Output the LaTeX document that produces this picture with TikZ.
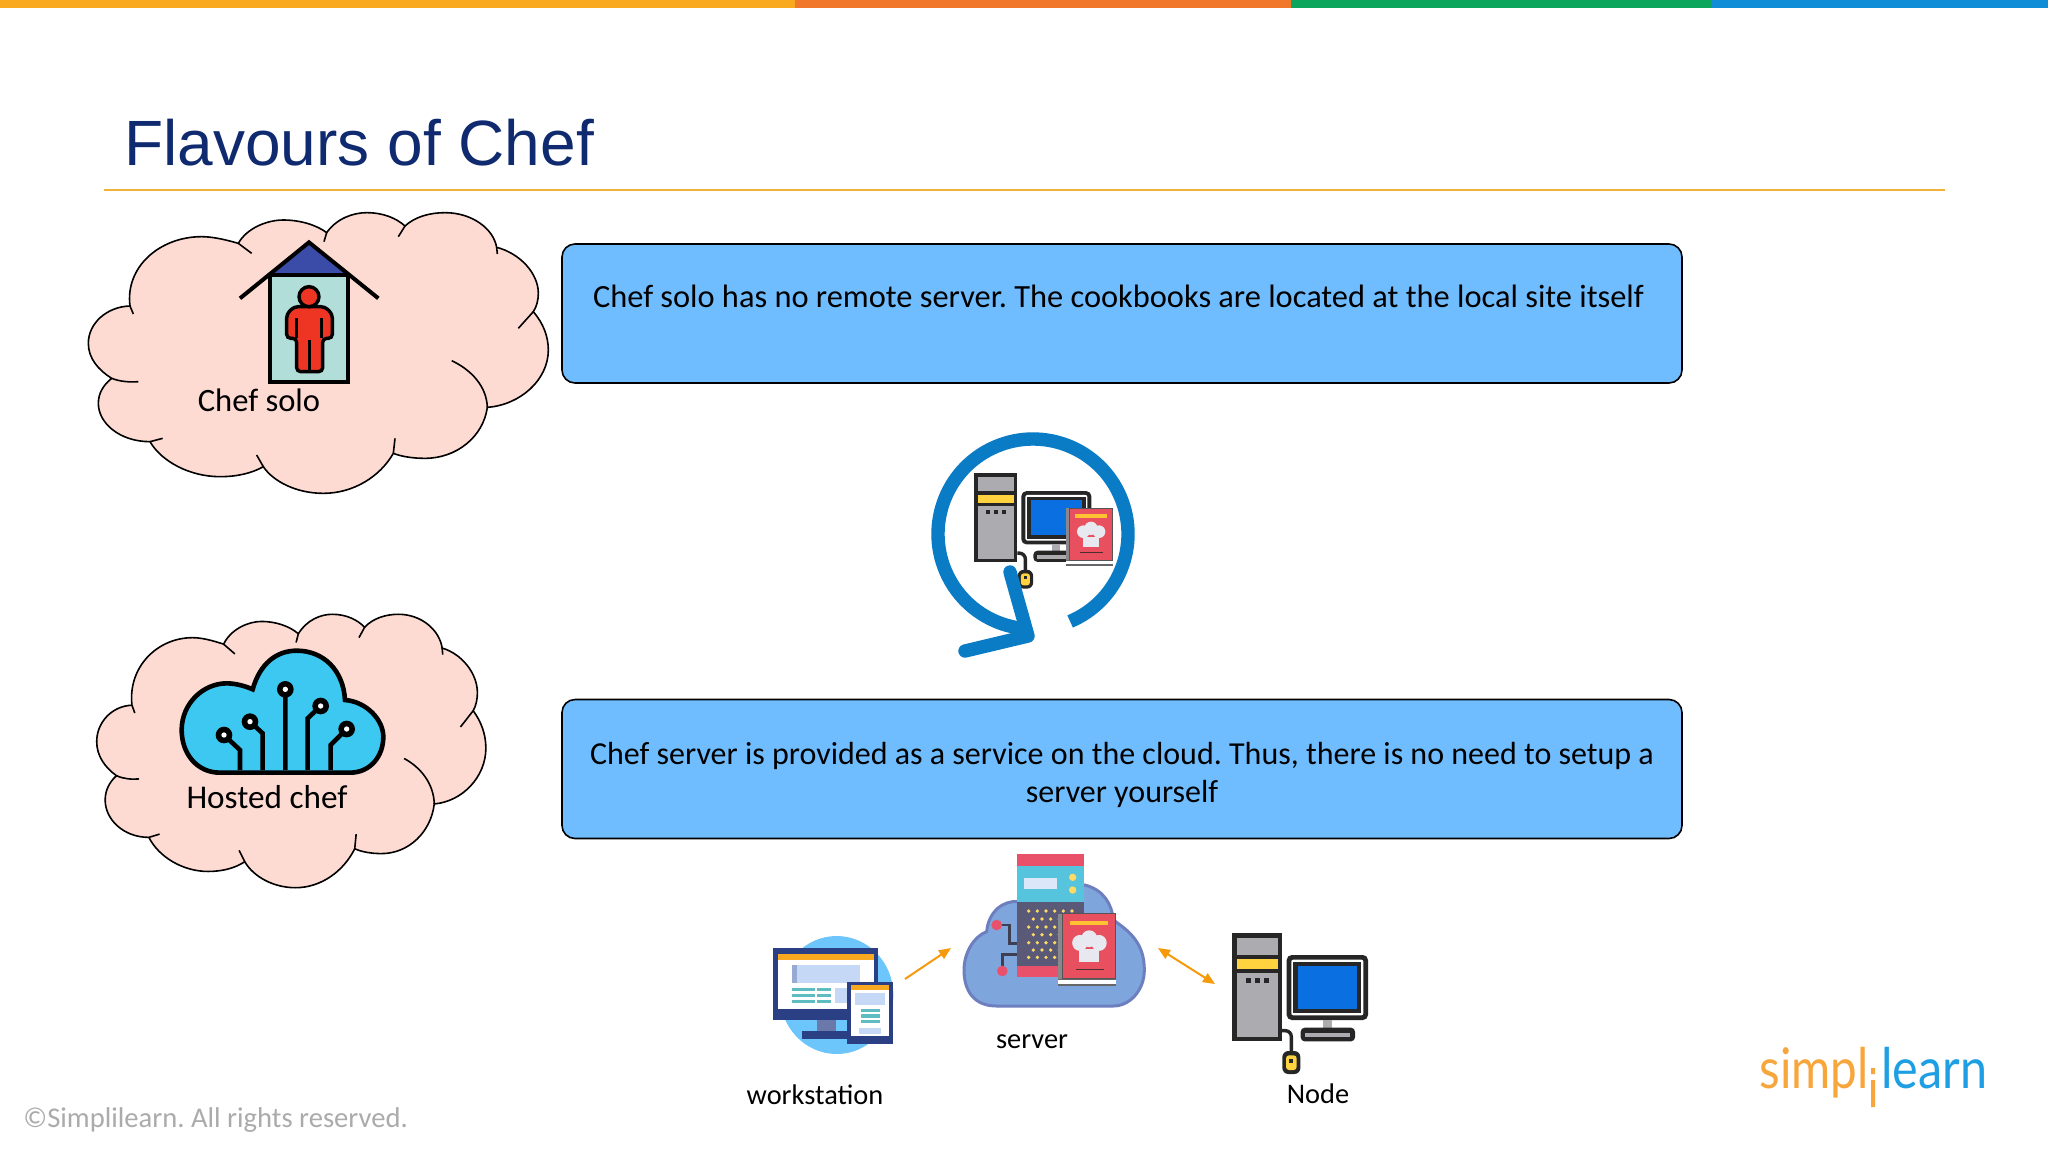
\documentclass[tikz,border=0pt]{standalone}
\usepackage{fontspec}
\setmainfont{Carlito}
\newfontfamily\titlefont{Liberation Sans}
\newfontfamily\logofont{Lato}
\usetikzlibrary{arrows.meta}
\definecolor{barone}{HTML}{F9A91F}
\definecolor{bartwo}{HTML}{F1782B}
\definecolor{barthree}{HTML}{0BA65C}
\definecolor{barfour}{HTML}{0F8DD6}
\definecolor{titlenavy}{HTML}{0F2A6E}
\definecolor{rulegold}{HTML}{F4B13A}
\definecolor{boxblue}{HTML}{6FBDFF}
\definecolor{cloudpink}{HTML}{FDDBD2}
\definecolor{loopblue}{HTML}{0A7CC6}
\definecolor{arroworange}{HTML}{F59B0B}
\definecolor{roofblue}{HTML}{3B4BA8}
\definecolor{housegreen}{HTML}{B2DEDA}
\definecolor{manred}{HTML}{EE3524}
\definecolor{hostedblue}{HTML}{3CC8F0}
\definecolor{pcdark}{HTML}{262626}
\definecolor{pcgrey}{HTML}{ABABB0}
\definecolor{pcyellow}{HTML}{FFD23F}
\definecolor{pcblue}{HTML}{0A6FE0}
\definecolor{bookred}{HTML}{E9505F}
\definecolor{hatwhite}{HTML}{E8E8F0}
\definecolor{navyws}{HTML}{2B3F85}
\definecolor{lightws}{HTML}{C5D8F5}
\definecolor{tealws}{HTML}{5FBCC0}
\definecolor{skyws}{HTML}{6CC5FB}
\definecolor{serverfill}{HTML}{7FA6DC}
\definecolor{serveredge}{HTML}{6E7FC0}
\definecolor{towerred}{HTML}{E9506A}
\definecolor{towercyan}{HTML}{55C4DC}
\definecolor{towerdark}{HTML}{5A5A78}
\definecolor{logoorange}{HTML}{F7A63C}
\definecolor{logoblue}{HTML}{1E9FE3}
\tikzset{
  x=0.5pt,y=-0.5pt,
  infobox/.style={draw=black,line width=0.8pt,fill=boxblue,rounded corners=6.5pt,minimum width=560pt,minimum height=69.5pt,inner sep=0pt},
  infotext/.style={align=center,font=\frenchspacing\fontsize{16.2}{19}\selectfont,inner sep=0pt},
  cloudtext/.style={font=\fontsize{16.3}{19}\selectfont,inner sep=0pt},
  smalltext/.style={font=\fontsize{14.2}{16}\selectfont,inner sep=0pt},
  linkarrow/.style={draw=arroworange,line width=1pt},
}
% cloud outline, tails drawn after the fill
\newcommand{\cloudblob}{
  \draw[fill=cloudpink,line width=0.8pt] (180,348) .. controls (165,230) and (270,140) .. (395,140)
    .. controls (430,140) and (470,150) .. (505,160)
    .. controls (530,115) and (590,90) .. (640,90) .. controls (690,90) and (740,105) .. (770,128)
    .. controls (800,85) and (850,68) .. (890,68) .. controls (940,68) and (980,85) .. (1005,108)
    .. controls (1035,80) and (1080,68) .. (1125,68) .. controls (1205,68) and (1270,115) .. (1280,172)
    .. controls (1350,190) and (1405,250) .. (1405,310) .. controls (1405,330) and (1400,350) .. (1390,365)
    .. controls (1420,400) and (1435,440) .. (1435,480) .. controls (1435,570) and (1350,645) .. (1252,652)
    .. controls (1240,740) and (1160,805) .. (1065,805) .. controls (1030,805) and (995,800) .. (970,790)
    .. controls (930,860) and (850,910) .. (760,910) .. controls (680,910) and (610,875) .. (580,830)
    .. controls (545,850) and (500,860) .. (450,860) .. controls (360,860) and (275,815) .. (240,755)
    .. controls (150,755) and (85,700) .. (85,640) .. controls (85,610) and (100,585) .. (125,565)
    .. controls (85,540) and (55,505) .. (55,460) .. controls (55,400) and (110,350) .. (180,348) -- cycle;
  \draw[line width=0.8pt] (180,348) -- (190,372) (505,160) -- (545,190) (770,128) -- (762,155)
    (1005,108) -- (985,140) (1280,172) -- (1282,192) (1390,365) -- (1345,415)
    (1252,652) .. controls (1250,590) and (1205,540) .. (1145,512)
    (970,790) -- (975,745) (580,830) -- (560,795) (240,755) -- (278,745) (125,565) .. controls (150,575) and (180,577) .. (205,575);
}
% computer with tower, monitor and mouse
\newcommand{\pcicon}{
  \fill[pcdark] (306,100) rectangle (456,424);
  \fill[pcgrey] (320,114) rectangle (444,166);
  \fill[pcyellow] (320,178) rectangle (444,208);
  \fill[pcgrey] (320,220) rectangle (444,412);
  \foreach \dotx in {355,382,409}
    \fill[pcdark] (\dotx-7,235) rectangle (\dotx+7,249);
  \fill[pcdark,rounded corners=2.5pt] (470,165) rectangle (714,360);
  \fill[white,rounded corners=1pt] (484,179) rectangle (700,346);
  \fill[pcdark] (490,185) rectangle (694,340);
  \fill[pcblue] (503,198) rectangle (682,326);
  \fill[pcgrey] (578,360) rectangle (606,385);
  \fill[pcdark,rounded corners=2pt] (512,424) -- (512,383) -- (675,383) -- (675,424) -- cycle;
  \fill[pcgrey] (526,398) rectangle (661,412);
  \draw[pcdark,line width=1.7pt,rounded corners=3pt] (456,392) -- (484,392) -- (484,456);
  \fill[pcdark,rounded corners=3pt] (457,453) rectangle (511,522);
  \fill[pcyellow,rounded corners=1.5pt] (468,466) rectangle (500,510);
  \fill[pcdark] (478,476) rectangle (490,488);
}
% cook book with chef hat
\newcommand{\bookicon}{
  \fill[pcgrey!80!black] (497,295) rectangle (510,467);
  \fill[white] (497,450) rectangle (638,465);
  \draw[pcgrey!60!black,line width=0.6pt] (497,452) -- (638,452) (497,465) -- (638,465);
  \fill[bookred] (508,295) rectangle (638,450);
  \draw[pcgrey!50!black,line width=0.4pt] (508,295) rectangle (638,450);
  \fill[pcyellow!80!orange] (525,312) rectangle (620,323);
  \fill[hatwhite] (548,380) rectangle (597,410);
  \fill[hatwhite] (550,365) circle[radius=19] (573,355) circle[radius=20] (597,365) circle[radius=19];
  \draw[pcdark!80!bookred,line width=0.5pt] (540,428) -- (610,428);
}
\begin{document}
\begin{tikzpicture}
  \useasboundingbox (0,0) rectangle (2048,1152);
  \fill[white] (0,0) rectangle (2048,1152);
  % top colour bar
  \fill[barone] (0,0) rectangle (795,8);
  \fill[bartwo] (795,0) rectangle (1291,8);
  \fill[barthree] (1291,0) rectangle (1712,8);
  \fill[barfour] (1712,0) rectangle (2048,8);
  % title
  \node[anchor=base west,inner sep=0pt,text=titlenavy,font=\titlefont\fontsize{32}{40}\selectfont] (title) at (124,165) {Flavours of Chef};
  \draw[rulegold,line width=0.8pt] (104,190) -- (1945,190);
  % clouds
  \begin{scope}[shift={(70,190)},scale=1/3]
    \cloudblob
    % house
    \fill[roofblue] (610,250) -- (717,160) -- (825,250) -- cycle;
    \draw[line width=2pt,fill=housegreen] (600,255) rectangle (835,575);
    \draw[line width=2pt] (510,325) -- (717,157) -- (925,325);
    \draw[line width=1.7pt,fill=manred,rounded corners=2pt] (672,350) -- (765,350) -- (787,372) -- (787,445) -- (758,445) -- (758,545) -- (680,545) -- (680,445) -- (650,445) -- (650,372) -- cycle;
    \draw[line width=1.7pt,fill=manred] (717,320) circle[radius=30];
    \draw[line width=1.5pt] (680,385) -- (680,445) (755,385) -- (755,445) (717,450) -- (717,545);
  \end{scope}
  \node[cloudtext] (solo) at (259,400.5) {Chef solo};
  \begin{scope}[shift={(81.2,592.2)},xscale=0.282,yscale=0.3247]
    \cloudblob
  \end{scope}
  \begin{scope}[shift={(70,590)},scale=1/3]
    \draw[line width=2.3pt,fill=hostedblue] (450,548) .. controls (380,548) and (335,490) .. (335,420)
      .. controls (335,340) and (400,280) .. (470,280) .. controls (500,280) and (530,290) .. (548,298)
      .. controls (570,220) and (620,182) .. (680,182) .. controls (760,182) and (820,240) .. (825,330)
      .. controls (890,335) and (940,390) .. (940,440) .. controls (940,500) and (900,548) .. (840,548) -- cycle;
    \draw[line width=2.3pt] (510,540) -- (510,480) -- (462,435) (578,540) -- (578,430) -- (540,395)
      (646,540) -- (646,298) (713,540) -- (713,385) -- (752,348) (782,540) -- (782,465) -- (830,417);
    \foreach \pinx/\piny in {462/435,540/395,646/298,752/348,830/417} {
      \fill (\pinx,\piny) circle[radius=25];
      \fill[white] (\pinx,\piny) circle[radius=8];
    }
  \end{scope}
  \node[cloudtext,font=\fontsize{16.6}{19}\selectfont] (hosted) at (267,797) {Hosted chef};
  % text boxes
  \node[infobox] (solobox) at (1122,313.5) {};
  \node[infotext] (solotext) at (1118.5,296) {Chef solo has no remote server. The cookbooks are located at the local site itself};
  \node[infobox] (hostedbox) at (1122,769) {};
  \node[infotext,font=\frenchspacing\fontsize{16}{19}\selectfont] (hostedtext) at (1122,774.5) {Chef server is provided as a service on the cloud. Thus, there is no need to setup a\\server yourself};
  % loop around the computer
  \begin{scope}[shift={(886.6,446)},xscale=0.2867,yscale=0.2733]
    \pcicon
  \end{scope}
  \begin{scope}[shift={(900,410)},scale=1/3]
    \bookicon
  \end{scope}
  \coordinate (loopcentre) at (1033,534);
  \coordinate (looptip) at (1028,636);
  \draw[loopblue,line width=6.7pt] (loopcentre) ++(67:95) arc[start angle=67,end angle=-258,radius=95] -- (looptip);
  \draw[loopblue,line width=6.7pt,line cap=round,line join=round] (1010,572) -- (looptip) -- (965,651);
  % workstation
  \begin{scope}[shift={(740,840)},scale=1/3]
    \fill[skyws] (290,465) ellipse[x radius=170,y radius=177];
    \fill[navyws] (98,323) rectangle (415,541);
    \fill[white] (115,343) rectangle (402,508);
    \fill[barone] (115,343) rectangle (402,360);
    \fill[lightws] (155,375) rectangle (360,430);
    \fill[lightws!70!navyws] (155,375) rectangle (172,430);
    \foreach \liney in {449,466,484} {
      \fill[tealws] (157,\liney-5) rectangle (225,\liney+5);
      \fill[tealws] (232,\liney-5) rectangle (272,\liney+5);
    }
    \fill[lightws] (285,443) rectangle (330,490);
    \fill[navyws!70!white] (230,541) rectangle (287,572);
    \fill[navyws] (186,572) rectangle (340,596);
    \fill[navyws] (322,427) rectangle (458,612);
    \fill[white] (333,436) rectangle (447,588);
    \fill[barone] (333,436) rectangle (447,450);
    \fill[lightws] (345,460) rectangle (436,495);
    \foreach \liney in {511,528,545}
      \fill[tealws] (362,\liney-5) rectangle (420,\liney+5);
    \fill[lightws] (358,563) rectangle (423,582);
    % server
    \draw[draw=serveredge,line width=1.5pt,fill=serverfill] (770,498) .. controls (700,498) and (672,450) .. (672,390)
      .. controls (672,340) and (700,290) .. (740,275) .. controls (745,215) and (790,180) .. (835,185)
      -- (1035,135) .. controls (1090,150) and (1115,190) .. (1120,240)
      .. controls (1170,275) and (1213,310) .. (1213,390) .. controls (1213,450) and (1170,498) .. (1120,498) -- cycle;
    \draw[towerdark!70!black,line width=1.3pt] (785,255) -- (808,255) -- (808,310) -- (830,310);
    \draw[towerdark!70!black,line width=1.3pt] (787,380) -- (787,343) -- (830,343);
    \fill[towerred] (770,255) circle[radius=16];
    \fill[towerred] (787,393) circle[radius=16];
    \fill[towerred] (830,42) rectangle (1033,78);
    \fill[towercyan] (830,78) rectangle (1033,185);
    \fill[lightws!60!white] (852,113) rectangle (950,147);
    \fill[pcyellow!80!white] (998,112) circle[radius=11];
    \fill[pcyellow!80!white] (998,150) circle[radius=11];
    \fill[towerdark] (830,185) rectangle (1033,378);
    \fill[towerred] (830,378) rectangle (1033,410);
    \foreach \rowy in {213,261,308,352}
      \foreach \colx in {866,892,918,944,970,996}
        \fill[pcyellow!80!white] (\colx,\rowy) circle[radius=5.5];
    \foreach \rowy in {237,284,330}
      \foreach \colx in {880,906,932,958,984,1010}
        \fill[pcyellow!80!white] (\colx,\rowy) circle[radius=5.5];
  \end{scope}
  \begin{scope}[shift={(856.2,789.6)},xscale=0.4067,yscale=0.42]
    \bookicon
  \end{scope}
  % node
  \begin{scope}[shift={(1130,900)},scale=1/3]
    \pcicon
  \end{scope}
  % arrows
  \coordinate (wsout) at (905,979);
  \coordinate (serverin) at (951,948);
  \coordinate (serverout) at (1158,948);
  \coordinate (nodein) at (1215,984);
  \draw[linkarrow,-{Triangle[length=6pt,width=5pt]}] (wsout) -- (serverin);
  \draw[linkarrow,{Triangle[length=6pt,width=5pt]}-{Triangle[length=6pt,width=5pt]}] (serverout) -- (nodein);
  % labels
  \node[smalltext] (serverlabel) at (1032,1041.5) {server};
  \node[smalltext] (wslabel) at (815,1095) {workstation};
  \node[smalltext] (nodelabel) at (1318,1094) {Node};
  % footer and logo
  \node[anchor=base west,inner sep=0pt,text=black!33,font=\frenchspacing\fontsize{14.3}{16}\selectfont] (footer) at (23,1127) {©Simplilearn. All rights reserved.};
  \node[anchor=base west,inner sep=0pt,text=logoorange,font=\logofont\fontsize{28}{30}\selectfont] (logosimpl) at (1759,1088) {\scalebox{0.85}[1]{simpl}};
  \node[anchor=base west,inner sep=0pt,text=logoblue,font=\logofont\fontsize{28}{30}\selectfont] (logolearn) at (1881,1088) {\scalebox{0.867}[1]{learn}};
  \fill[logoorange] (1871,1068) rectangle (1875,1074) (1871,1080) rectangle (1875,1107);
\end{tikzpicture}
\end{document}
